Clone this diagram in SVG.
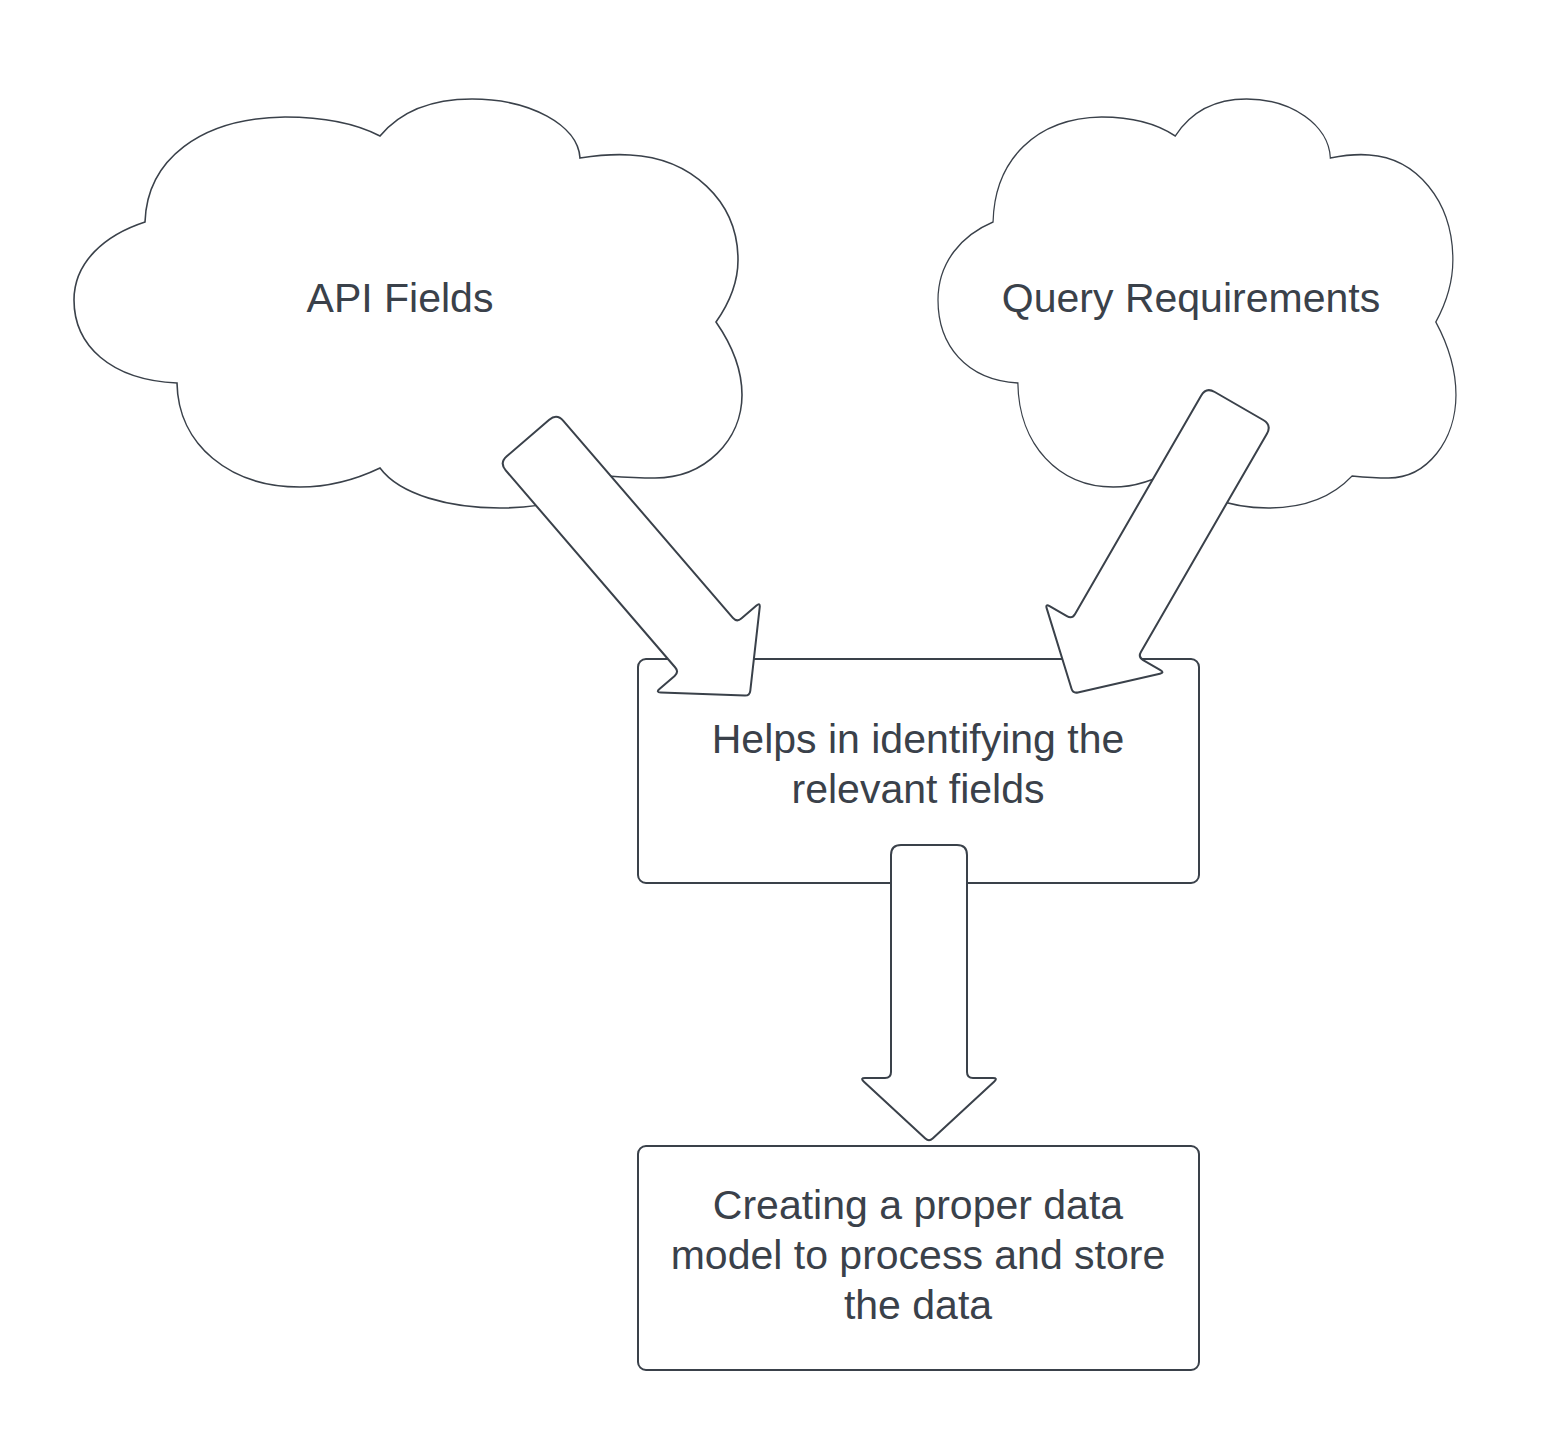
<svg xmlns="http://www.w3.org/2000/svg" width="1564" height="1446" viewBox="0 0 1564 1446">
<style>
.cloud{fill:#ffffff;stroke:#3a414a;stroke-width:1.6}
.box{fill:#ffffff;stroke:#3a414a;stroke-width:2}
.arrow{fill:#ffffff;stroke:#3a414a;stroke-width:2;stroke-linejoin:round}
.lbl{font-family:"Liberation Sans",Arial,sans-serif;font-size:41px;fill:#3a414a;text-anchor:middle}
</style>
<defs>
<path id="cloudShape" d="M145,222 C147,160 200,118 285,117 C320,117 355,123 380,136 C400,112 430,99 472,99 C530,99 578,125 580,158 C600,155 615,154 630,155 C690,158 738,200 738,260 C738,285 728,305 716,322 C732,345 742,370 742,395 C742,440 705,478 655,478 C640,478 622,477 608,476 C585,495 550,508 500,508 C450,508 400,495 380,468 C355,480 330,487 300,487 C230,487 178,445 177,383 C110,380 74,345 74,300 C74,262 105,235 145,222 Z"/>
</defs>
<rect width="1564" height="1446" fill="#ffffff"/>
<g id="node-api-fields">
<use href="#cloudShape" class="cloud"/>
<text class="lbl" x="400" y="312">API Fields</text>
</g>
<g id="node-query-requirements">
<use href="#cloudShape" class="cloud" transform="translate(938,0) scale(0.7754,1) translate(-74,0)" style="vector-effect:non-scaling-stroke"/>
<text class="lbl" x="1191" y="312">Query Requirements</text>
</g>
<g id="node-helps">
<rect class="box" x="638" y="659" width="561" height="224" rx="8"/>
<text class="lbl" x="918" y="753">Helps in identifying the</text>
<text class="lbl" x="918" y="803">relevant fields</text>
</g>
<g id="node-creating">
<rect class="box" x="638" y="1146" width="561" height="224" rx="8"/>
<text class="lbl" x="918" y="1219">Creating a proper data</text>
<text class="lbl" x="918" y="1269">model to process and store</text>
<text class="lbl" x="918" y="1319">the data</text>
</g>
<g id="connectors">
<path class="arrow" transform="translate(528,438) rotate(49.3)" d="M10,-38 L270,-38 Q276,-38 276,-44 L276,-64 Q276,-69 279.4,-65.33 L336.6,-3.67 Q340,0 336.6,3.67 L279.4,65.33 Q276,69 276,64 L276,44 Q276,38 270,38 L10,38 Q0,38 0,28 L0,-28 Q0,-38 10,-38 Z"/>
<path class="arrow" transform="translate(1239,406) rotate(120)" d="M10,-38 L262,-38 Q268,-38 268,-44 L268,-64 Q268,-69 271.4,-65.33 L328.6,-3.67 Q332,0 328.6,3.67 L271.4,65.33 Q268,69 268,64 L268,44 Q268,38 262,38 L10,38 Q0,38 0,28 L0,-28 Q0,-38 10,-38 Z"/>
<path class="arrow" transform="translate(929,845) rotate(90)" d="M10,-38 L227,-38 Q233,-38 233,-44 L233,-64 Q233,-69 236.4,-65.33 L293.6,-3.67 Q297,0 293.6,3.67 L236.4,65.33 Q233,69 233,64 L233,44 Q233,38 227,38 L10,38 Q0,38 0,28 L0,-28 Q0,-38 10,-38 Z"/>
</g>
</svg>
